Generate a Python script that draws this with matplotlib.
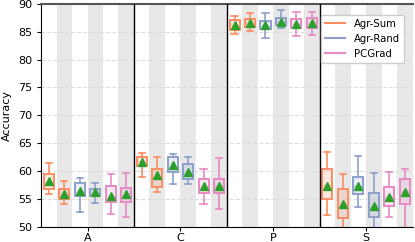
import numpy as np
import matplotlib.pyplot as plt

domains = ['A', 'C', 'P', 'S']
methods = ['Agr-Sum', 'Agr-Rand', 'PCGrad']
colours = ['#fc8d62', '#8da0cb', '#e78ac3']

# two runs per method per domain -> 6 boxes per domain, order: A, C, P, S
whislo = [55.9, 54.0, 52.7, 54.2, 52.3, 51.7,
          59.0, 56.2, 57.7, 57.6, 54.0, 53.1,
          84.6, 85.2, 83.8, 85.6, 84.2, 84.4,
          52.1, 49.0, 53.5, 48.0, 51.8, 49.0]
q1 = [56.7, 54.9, 55.5, 55.6, 54.4, 54.5,
      60.9, 57.2, 59.8, 58.5, 56.1, 56.1,
      85.3, 85.8, 85.5, 86.2, 85.6, 85.6,
      55.0, 51.6, 55.9, 51.7, 53.8, 54.1]
med = [58.0, 55.8, 56.3, 56.1, 55.5, 55.6,
       61.8, 59.0, 60.8, 59.7, 57.4, 57.3,
       86.2, 86.5, 86.1, 86.8, 86.4, 86.5,
       57.5, 54.0, 57.3, 53.6, 55.3, 56.5]
q3 = [59.4, 56.8, 57.8, 56.7, 57.3, 57.0,
      62.6, 60.4, 62.5, 61.2, 58.6, 58.6,
      87.1, 87.3, 86.9, 87.5, 87.3, 87.4,
      60.4, 56.7, 59.0, 56.1, 57.1, 58.6]
whishi = [61.4, 58.3, 58.8, 57.8, 59.5, 59.7,
          63.3, 62.5, 63.0, 62.5, 60.3, 62.4,
          87.8, 88.3, 88.4, 88.9, 88.6, 88.6,
          63.5, 59.4, 62.7, 59.6, 59.8, 60.3]
means = [58.2, 55.9, 56.5, 56.2, 55.6, 55.8,
         61.6, 59.2, 61.0, 59.8, 57.4, 57.4,
         86.2, 86.6, 86.2, 86.8, 86.4, 86.5,
         57.3, 54.1, 57.3, 53.8, 55.3, 56.2]

fig = plt.figure(figsize=(4.15, 2.42), dpi=100)
ax = fig.add_axes([0.099, 0.063, 0.895, 0.921])

n = len(whislo)
for i in range(1, n, 2):
    ax.axvspan(i - 0.5, i + 0.5, color='#e8e8e8', zorder=0, lw=0)

for i in range(n):
    c = colours[(i % 6) // 2]
    st = [dict(whislo=whislo[i], q1=q1[i], med=med[i], q3=q3[i],
               whishi=whishi[i], mean=means[i], fliers=[])]
    ax.bxp(st, positions=[i], widths=0.65, showmeans=True, patch_artist=True,
           boxprops=dict(facecolor=c + '33', edgecolor=c, linewidth=1.4),
           whiskerprops=dict(color=c, linewidth=1.2),
           capprops=dict(color=c, linewidth=1.2),
           medianprops=dict(color=c, linewidth=1.0, alpha=0.35),
           meanprops=dict(marker='^', markerfacecolor='#2ca02c',
                          markeredgecolor='#2ca02c', markersize=6),
           capwidths=0.4, manage_ticks=False)

for b in [5.5, 11.5, 17.5]:
    ax.axvline(b, color='black', lw=1.0, zorder=3)

ax.set_xlim(-0.5, n - 0.5)
ax.set_ylim(50, 90)
ax.set_yticks(np.arange(50, 91, 5))
ax.set_xticks([2.5, 8.5, 14.5, 20.5])
ax.set_xticklabels(domains)
ax.tick_params(labelsize=8, length=3)
ax.tick_params(axis='x', pad=1.5)
ax.yaxis.grid(True, linestyle='--', color='#dddddd', lw=0.8)
ax.set_axisbelow(True)
ax.set_ylabel('Accuracy', fontsize=8)

ax.spines['top'].set_color('#555555')
ax.spines['top'].set_linewidth(1.5)
ax.spines['right'].set_visible(False)

handles = [plt.Line2D([], [], color=c, lw=1.5) for c in colours]
ax.legend(handles, methods, loc='upper right', fontsize=7.3,
          bbox_to_anchor=(0.99, 0.975), framealpha=1)

fig.savefig('out.png', dpi=100)
